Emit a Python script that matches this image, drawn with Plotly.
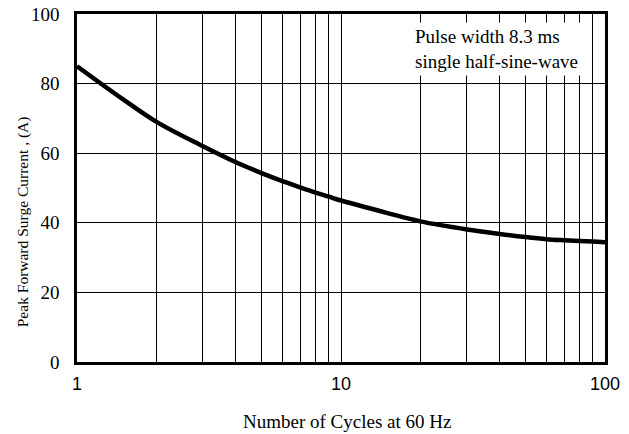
import plotly.graph_objects as go

# Data
cycles = [1, 1.5, 2, 3, 4, 5, 6, 7, 8, 9, 10, 15, 20, 30, 40, 50, 60, 70, 80, 90, 100]
surge_current = [85.0, 75.4, 69.0, 62.0, 57.4, 54.3, 52.0, 50.2, 48.7, 47.5, 46.4,
                 42.8, 40.4, 38.1, 36.8, 35.9, 35.3, 35.0, 34.8, 34.6, 34.4]

x_major = [1, 10, 100]
x_major_labels = ["1", "10", "100"]
x_minor = [2, 3, 4, 5, 6, 7, 8, 9, 20, 30, 40, 50, 60, 70, 80, 90]
y_ticks = [0, 20, 40, 60, 80, 100]

x_title = "Number of Cycles at 60 Hz"
y_title = "Peak Forward Surge Current , (A)"
note = "Pulse width 8.3 ms<br>single half-sine-wave"

serif = "Liberation Serif, Times New Roman, serif"
sans = "Liberation Sans, Arial, sans-serif"

fig = go.Figure()
fig.add_trace(go.Scatter(
    x=cycles, y=surge_current, mode="lines",
    line=dict(color="black", width=4.5, shape="spline", smoothing=1.0),
    showlegend=False, hoverinfo="skip",
))

fig.update_layout(
    width=629, height=434,
    margin=dict(l=77, r=24, t=14, b=72),
    paper_bgcolor="white", plot_bgcolor="white",
    showlegend=False,
    xaxis=dict(
        type="log", range=[0, 2], automargin=False,
        tickvals=x_major, ticktext=x_major_labels,
        tickfont=dict(family=sans, size=18, color="black"),
        showgrid=True, gridcolor="black", gridwidth=1,
        minor=dict(tickvals=x_minor, showgrid=True, gridcolor="black", gridwidth=1, ticks=""),
        showline=True, linecolor="black", linewidth=2.5, mirror=True,
        ticks="", ticklabelstandoff=4, ticklabeloverflow="allow",
        zeroline=False,
    ),
    yaxis=dict(
        range=[0, 100], tickvals=y_ticks, automargin=False,
        tickfont=dict(family=serif, size=19, color="black"),
        showgrid=True, gridcolor="black", gridwidth=1,
        showline=True, linecolor="black", linewidth=2.5, mirror=True,
        ticks="", ticklabelstandoff=11, ticklabeloverflow="allow",
        zeroline=False,
    ),
    annotations=[
        dict(
            xref="paper", yref="paper", x=0.636, y=0.977,
            xanchor="left", yanchor="top",
            text=note, showarrow=False, align="left",
            bgcolor="white", borderpad=1, width=170, height=50,
            font=dict(family=serif, size=19, color="black"),
        ),
        dict(
            xref="paper", yref="paper", x=0.512, y=-0.172,
            xanchor="center", yanchor="middle",
            text=x_title, showarrow=False,
            font=dict(family=serif, size=19, color="black"),
        ),
        dict(
            xref="paper", yref="paper", x=-0.102, y=0.402,
            xanchor="center", yanchor="middle", textangle=-90,
            text=y_title, showarrow=False,
            font=dict(family=serif, size=15.5, color="black"),
        ),
    ],
)

fig.write_html("out.html", config={"displayModeBar": False},
               post_script="document.body.style.margin='0';")
